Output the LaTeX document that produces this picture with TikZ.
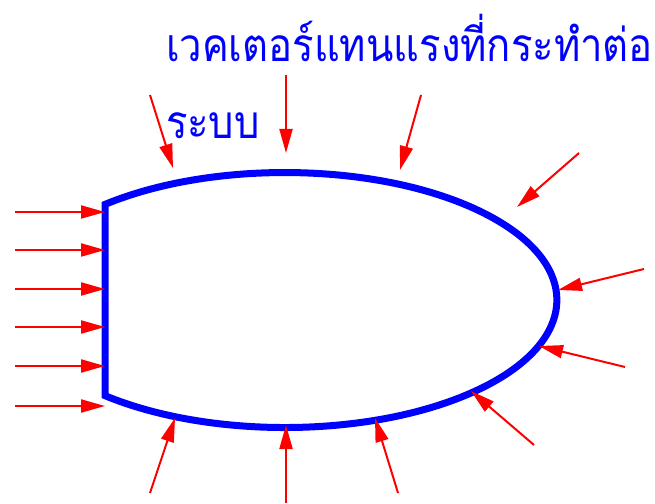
\documentclass[tikz,border=0pt]{standalone}
\usepackage{fontspec}
\newfontfamily\thaifont[Script=Thai, FakeStretch=0.87]{Loma}
\usetikzlibrary{arrows.meta}
\begin{document}
\begin{tikzpicture}[x=1pt, y=1pt, line width=2pt,
  force/.style={red, -{Triangle[length=24pt, width=13pt]}},
  outline/.style={blue, line width=7pt, line join=miter}]
  \useasboundingbox (0,0) rectangle (655,503);
  \draw[outline] (105,107.4) -- (105,298.6) arc[start angle=131.4, end angle=-131.4, x radius=272, y radius=127.5] -- cycle;
  \node[blue, anchor=base west, inner sep=0pt, align=left, font=\thaifont\fontsize{46}{77}\selectfont] (title) at (165,364) {เวคเตอร์แทนแรงที่กระทำต่อ\\ระบบ};
  \foreach \y [count=\i] in {212,250,289,327,366,406} {
    \coordinate (lt\i) at (15,503-\y);
    \coordinate (lh\i) at (105,503-\y);
    \draw[force] (lt\i) -- (lh\i);
  }
  \foreach \ax/\ay/\bx/\by [count=\i] in {150/408/173/335, 286/428/286/350, 421/408/400/333,
      579/350/517/296, 644/234/558/213, 625/136/539/157, 534/58/471/112,
      150/10/175/85, 286/0/286/78, 398/10/375/85} {
    \coordinate (ft\i) at (\ax,\ay);
    \coordinate (fh\i) at (\bx,\by);
    \draw[force] (ft\i) -- (fh\i);
  }
\end{tikzpicture}
\end{document}
